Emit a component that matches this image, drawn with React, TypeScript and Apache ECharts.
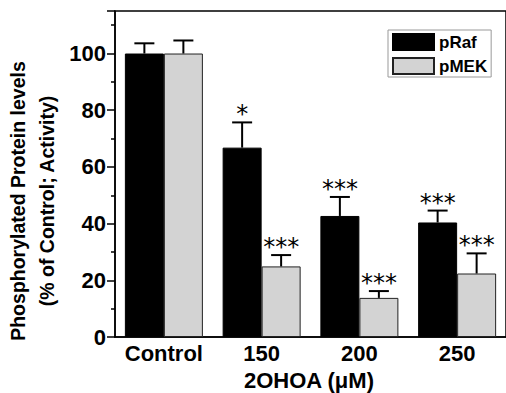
import React, { useEffect, useRef } from "react";
import * as echarts from "echarts";

const categories = ["Control", "150", "200", "250"];
const pRaf = [100, 66.8, 42.7, 40.4];
const pRafErr = [3.6, 8.9, 6.7, 4.2];
const pMEK = [100, 24.9, 13.8, 22.4];
const pMEKErr = [4.6, 4.0, 2.4, 7.1];
const pRafSig = ["", "*", "***", "***"];
const pMEKSig = ["", "***", "***", "***"];
const yTicks = [0, 20, 40, 60, 80, 100];

const FONT = "'Liberation Sans', Arial, sans-serif";
const BAR_W = 39;

function errorSeries(name: string, vals: number[], errs: number[], sig: string[], offset: number) {
  return {
    type: "custom",
    name: name + "-err",
    z: 5,
    silent: true,
    data: vals.map((v, i) => [i, v, errs[i]]),
    renderItem: (params: any, api: any) => {
      const i = api.value(0);
      const v = api.value(1);
      const e = api.value(2);
      const base = api.coord([i, v]);
      const top = api.coord([i, v + e]);
      const x = base[0] + offset;
      const s = sig[params.dataIndex];
      const children: any[] = [
        { type: "line", shape: { x1: x, y1: base[1], x2: x, y2: top[1] }, style: { stroke: "#000", lineWidth: 2 } },
        { type: "line", shape: { x1: x - 10, y1: top[1], x2: x + 10, y2: top[1] }, style: { stroke: "#000", lineWidth: 2 } },
      ];
      if (s) {
        children.push({
          type: "text",
          x: x,
          y: top[1] - 8,
          style: { text: s, fill: "#000", font: "24px 'DejaVu Sans', sans-serif", align: "center", verticalAlign: "middle" },
        });
      }
      return { type: "group", children };
    },
  };
}

export default function App() {
  const ref = useRef<HTMLDivElement>(null);
  useEffect(() => {
    document.body.style.margin = "0";
    const chart = echarts.init(ref.current!, null, { renderer: "svg" });
    chart.setOption({
      animation: false,
      backgroundColor: "#fff",
      grid: { left: 115, top: 11, width: 391, height: 326, show: true, borderColor: "#000", borderWidth: 1.5, backgroundColor: "transparent" },
      legend: {
        left: 388,
        top: 30,
        orient: "vertical",
        itemWidth: 41,
        itemHeight: 16,
        itemGap: 6,
        itemTextGap: 6,
        padding: [3, 4, 2, 4],
        borderColor: "#999",
        borderWidth: 1,
        icon: "rect",
        data: ["pRaf", "pMEK"],
        textStyle: { fontFamily: FONT, fontWeight: "bold", fontSize: 17, color: "#000", lineHeight: 16 },
      },
      xAxis: {
        type: "category",
        data: categories,
        axisLine: { lineStyle: { color: "#000", width: 1.5 } },
        axisTick: { show: false },
        axisLabel: { interval: 0, hideOverlap: false, color: "#000", fontFamily: FONT, fontWeight: "bold", fontSize: 22, margin: 5 },
      },
      yAxis: {
        type: "value",
        min: 0,
        max: 115,
        interval: 20,
        splitLine: { show: false },
        axisLine: { show: true, lineStyle: { color: "#000", width: 1.5 } },
        axisTick: { show: true, inside: false, length: 8, lineStyle: { color: "#000", width: 1.5 } },
        minorTick: { show: true, splitNumber: 2, length: 4, lineStyle: { color: "#000", width: 1.5 } },
        axisLabel: {
          color: "#000",
          fontFamily: FONT,
          fontWeight: "bold",
          fontSize: 22,
          margin: 9,
          formatter: (v: number) => (yTicks.includes(v) ? String(v) : ""),
        },
      },
      series: [
        {
          name: "pRaf",
          type: "bar",
          data: pRaf,
          barWidth: BAR_W,
          barGap: "0%",
          itemStyle: { color: "#000", borderColor: "#000", borderWidth: 1 },
        },
        {
          name: "pMEK",
          type: "bar",
          data: pMEK,
          barWidth: BAR_W,
          barGap: "0%",
          itemStyle: { color: "#d3d3d3", borderColor: "#222", borderWidth: 1 },
        },
        errorSeries("pRaf", pRaf, pRafErr, pRafSig, -BAR_W / 2),
        errorSeries("pMEK", pMEK, pMEKErr, pMEKSig, BAR_W / 2),
      ],
      graphic: [
        {
          type: "text",
          x: 18,
          y: 201,
          rotation: Math.PI / 2,
          style: { text: "Phosphorylated Protein levels", font: "bold 19.5px " + FONT, fill: "#000", align: "center", verticalAlign: "middle" },
        },
        {
          type: "text",
          x: 47,
          y: 201,
          rotation: Math.PI / 2,
          style: { text: "(% of Control; Activity)", font: "bold 19.5px " + FONT, fill: "#000", align: "center", verticalAlign: "middle" },
        },
        {
          type: "text",
          x: 309,
          y: 380,
          style: { text: "2OHOA (\u03bcM)", font: "bold 22px " + FONT, fill: "#000", align: "center", verticalAlign: "middle" },
        },
      ],
    });
    return () => chart.dispose();
  }, []);
  return <div ref={ref} style={{ width: 506, height: 393 }} />;
}
